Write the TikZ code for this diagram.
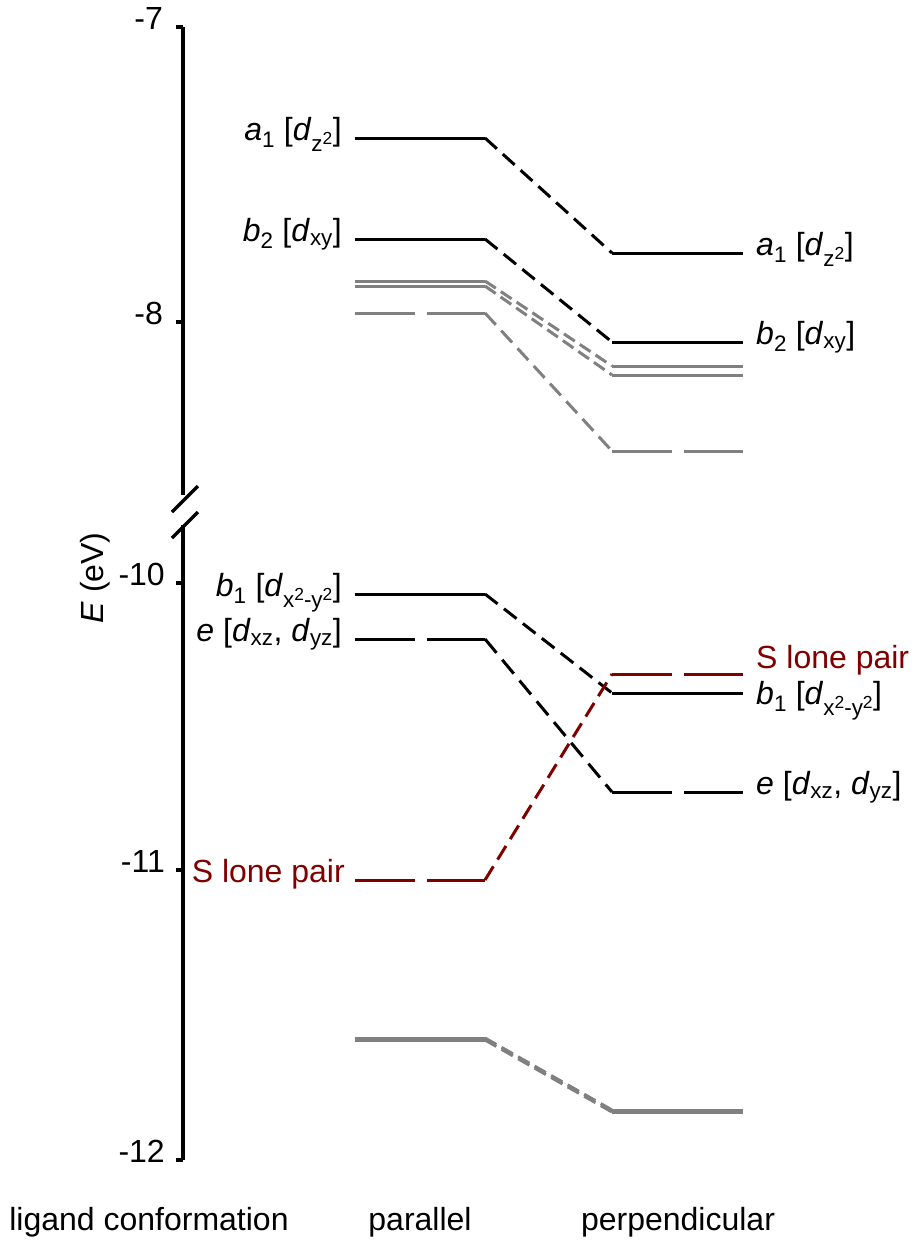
\documentclass[tikz,border=0pt]{standalone}
\usepackage{fontspec}
\setmainfont{Liberation Sans}
\usepackage{xcolor}
\usepackage{tikz}
\usetikzlibrary{positioning}
\definecolor{lonepair}{RGB}{128,0,0}
\definecolor{minorgray}{RGB}{128,128,128}
\newcommand{\sqr}{\raisebox{0.6ex}{\scalebox{0.78}{2}}}

\begin{document}
\begin{tikzpicture}[
    x=1pt, y=-1pt,
    every node/.style={font=\fontsize{32}{38}\selectfont, inner sep=0pt},
    axisline/.style={line width=3.4pt},
    level/.style={line width=3pt},
    longdash/.style={level, dash pattern=on 60pt off 12pt},
    link/.style={line width=3pt, dash pattern=on 16pt off 8pt},
    graylink/.style={line width=3pt, minorgray, dash pattern=on 13pt off 6pt},
    lbl/.style={anchor=mid east},
    rlbl/.style={anchor=mid west},
]
\useasboundingbox (0,0) rectangle (915,1245);

% energy axis with break
\coordinate (top) at (183,27);
\coordinate (brkA) at (183,495);
\coordinate (brkB) at (183,525);
\coordinate (bot) at (183,1160);
\draw[axisline] (top) -- (brkA);
\draw[axisline] (brkB) -- (bot);
\draw[axisline] (172,512) -- (198,486);
\draw[axisline] (172,538) -- (198,512);
\draw[axisline] (176,27) -- (top);
\draw[axisline] (176,322) -- (183,322);
\draw[axisline] (176,583) -- (183,583);
\draw[axisline] (176,870) -- (183,870);
\draw[axisline] (176,1160) -- (bot);
\node[lbl] (t7) at (163,27) {-7};
\node[lbl] (t8) at (163,322) {-8};
\node[lbl] (t10) at (165,583) {-10};
\node[lbl] (t11) at (165,870) {-11};
\node[lbl] (t12) at (165,1160) {-12};
\node[rotate=90] (elabel) at (95,578) {\textit{E} (eV)};

% a1 [dz2]
\coordinate (a1L) at (355,138); \coordinate (a1R) at (485,138);
\coordinate (a1l) at (612,253); \coordinate (a1r) at (743,253);
\draw[level] (a1L) -- (a1R);
\draw[link] (a1R) -- (a1l);
\draw[level] (a1l) -- (a1r);
\node[lbl] (a1par) at (342,138) {\textit{a}\textsubscript{1} [\textit{d}\textsubscript{z\sqr}]};
\node[rlbl] (a1perp) at (756,253) {\textit{a}\textsubscript{1} [\textit{d}\textsubscript{z\sqr}]};

% b2 [dxy]
\coordinate (b2L) at (355,239); \coordinate (b2R) at (485,239);
\coordinate (b2l) at (612,342); \coordinate (b2r) at (743,342);
\draw[level] (b2L) -- (b2R);
\draw[link] (b2R) -- (b2l);
\draw[level] (b2l) -- (b2r);
\node[lbl] (b2par) at (342,239) {\textit{b}\textsubscript{2} [\textit{d}\textsubscript{xy}]};
\node[rlbl] (b2perp) at (756,342) {\textit{b}\textsubscript{2} [\textit{d}\textsubscript{xy}]};

% unlabelled levels (gray)
\coordinate (g1L) at (355,281); \coordinate (g1R) at (485,281);
\coordinate (g1l) at (612,366); \coordinate (g1r) at (743,366);
\draw[level, minorgray] (g1L) -- (g1R);
\draw[graylink] (g1R) -- (g1l);
\draw[level, minorgray] (g1l) -- (g1r);
\coordinate (g2L) at (355,286); \coordinate (g2R) at (485,286);
\coordinate (g2l) at (612,375); \coordinate (g2r) at (743,375);
\draw[level, minorgray] (g2L) -- (g2R);
\draw[graylink] (g2R) -- (g2l);
\draw[level, minorgray] (g2l) -- (g2r);
\coordinate (g3L) at (355,313); \coordinate (g3R) at (485,313);
\coordinate (g3l) at (612,451); \coordinate (g3r) at (743,451);
\draw[longdash, minorgray] (g3L) -- (g3R);
\draw[link, minorgray] (g3R) -- (g3l);
\draw[longdash, minorgray] (g3l) -- (g3r);

% b1 [dx2-y2]
\coordinate (b1L) at (355,594); \coordinate (b1R) at (485,594);
\coordinate (b1l) at (612,693); \coordinate (b1r) at (743,693);
\draw[level] (b1L) -- (b1R);
\draw[link] (b1R) -- (b1l);
\draw[level] (b1l) -- (b1r);
\node[lbl] (b1par) at (342,594) {\textit{b}\textsubscript{1} [\textit{d}\textsubscript{x\sqr-y\sqr}]};
\node[rlbl] (b1perp) at (756,702) {\textit{b}\textsubscript{1} [\textit{d}\textsubscript{x\sqr-y\sqr}]};

% e [dxz, dyz]
\coordinate (eL) at (355,639); \coordinate (eR) at (485,639);
\coordinate (el) at (612,792); \coordinate (er) at (743,792);
\draw[longdash] (eL) -- (eR);
\draw[link, dash pattern=on 18pt off 9pt] (eR) -- (el);
\draw[longdash] (el) -- (er);
\node[lbl] (epar) at (342,639) {\textit{e} [\textit{d}\textsubscript{xz}, \textit{d}\textsubscript{yz}]};
\node[rlbl] (eperp) at (756,792) {\textit{e} [\textit{d}\textsubscript{xz}, \textit{d}\textsubscript{yz}]};

% S lone pair
\coordinate (sL) at (355,880); \coordinate (sR) at (485,880);
\coordinate (sl) at (612,674); \coordinate (sr) at (743,674);
\draw[longdash, lonepair] (sL) -- (sR);
\draw[link, lonepair] (sR) -- (sl);
\draw[longdash, lonepair] (sl) -- (sr);
\node[lbl, text=lonepair] (spar) at (345,880) {S lone pair};
\node[rlbl, text=lonepair] (sperp) at (756,666) {S lone pair};

% low-lying levels (gray, nearly degenerate)
\coordinate (g4L) at (355,1038); \coordinate (g4R) at (485,1038);
\coordinate (g4l) at (612,1110); \coordinate (g4r) at (743,1110);
\draw[level, minorgray] (g4L) -- (g4R);
\draw[graylink] (g4R) -- (g4l);
\draw[level, minorgray] (g4l) -- (g4r);
\coordinate (g5L) at (355,1040); \coordinate (g5R) at (485,1040);
\coordinate (g5l) at (612,1112); \coordinate (g5r) at (743,1112);
\draw[level, minorgray] (g5L) -- (g5R);
\draw[graylink] (g5R) -- (g5l);
\draw[level, minorgray] (g5l) -- (g5r);

% conformations
\node (conf) at (149,1222) {ligand conformation};
\node (par) at (420,1222) {parallel};
\node (perp) at (678,1222) {perpendicular};
\end{tikzpicture}
\end{document}
